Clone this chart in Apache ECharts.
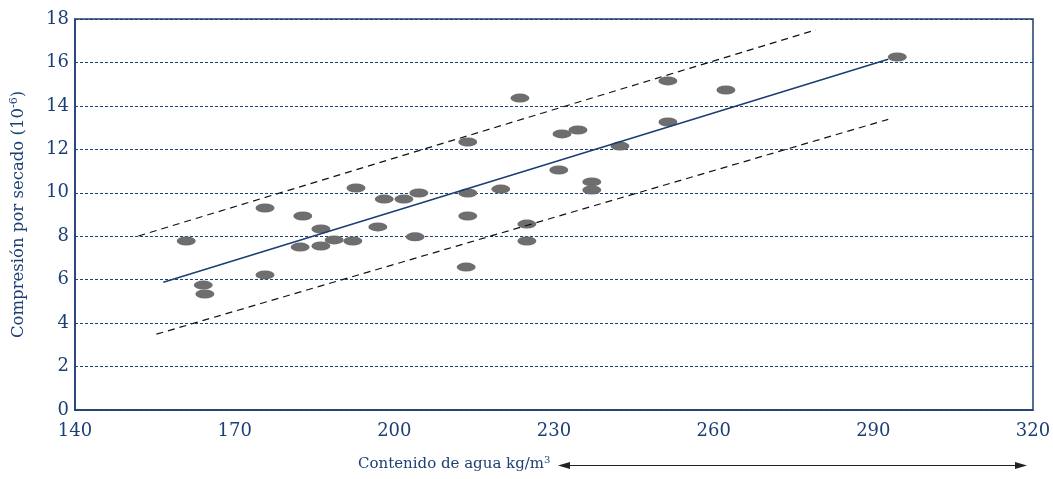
<!DOCTYPE html>
<html>
<head>
<meta charset="utf-8">
<script src="https://cdn.jsdelivr.net/npm/echarts@6/dist/echarts.min.js"></script>
<style>
  html, body { margin: 0; padding: 0; background: #fff; }
  #chart { width: 1053px; height: 479px; }
</style>
</head>
<body>
<div id="chart"></div>
<script>
// contenido de agua (kg/m3) vs compresion por secado (10^-6)
const waterX = [160.9, 164.1, 164.4, 175.7, 175.7, 182.8, 182.3, 186.2, 186.2, 188.7,
                192.2, 192.8, 198.1, 196.9, 201.8, 204.6, 203.9, 213.8, 213.8, 213.8,
                213.5, 220.0, 223.6, 224.9, 224.9, 230.9, 231.5, 234.5, 237.1, 237.1,
                242.4, 251.4, 251.4, 262.3, 294.5];
const shrinkY = [7.78, 5.75, 5.34, 9.30, 6.22, 8.93, 7.50, 8.33, 7.55, 7.83,
                 7.78, 10.22, 9.71, 8.43, 9.71, 9.99, 7.97, 12.34, 9.99, 8.93,
                 6.58, 10.17, 14.36, 8.56, 7.78, 11.05, 12.71, 12.89, 10.50, 10.13,
                 12.15, 15.15, 13.26, 14.73, 16.25];

// recta de regresion y limites
const fitX = [156.6, 292.8];
const fitY = [5.88, 16.15];
const upperX = [151.9, 279.2];
const upperY = [8.01, 17.50];
const lowerX = [155.3, 292.8];
const lowerY = [3.49, 13.38];

const xTicks = [140, 170, 200, 230, 260, 290, 320];
const yTicks = [0, 2, 4, 6, 8, 10, 12, 14, 16, 18];

const navy = '#1c3f74';
const font = 'DejaVu Serif';

const pairs = (xs, ys) => xs.map((x, i) => [x, ys[i]]);

const chart = echarts.init(document.getElementById('chart'));
chart.setOption({
  animation: false,
  grid: {
    left: 75, right: 20, top: 19, bottom: 69,
    outerBoundsMode: 'none', containLabel: false,
    show: true, borderColor: navy, borderWidth: 1.5
  },
  xAxis: {
    type: 'value',
    min: xTicks[0], max: xTicks[xTicks.length - 1], interval: 30,
    axisLine: { lineStyle: { color: navy, width: 1.5 } },
    axisTick: { show: false },
    splitLine: { show: false },
    axisLabel: { color: navy, fontFamily: font, fontSize: 18, margin: 12 }
  },
  yAxis: {
    type: 'value',
    min: yTicks[0], max: yTicks[yTicks.length - 1], interval: 2,
    axisLine: { show: true, lineStyle: { color: navy, width: 1.5 } },
    axisTick: { show: false },
    splitLine: { lineStyle: { color: navy, width: 1, type: [3, 2] } },
    axisLabel: { color: navy, fontFamily: font, fontSize: 18, margin: 6 },
    name: '{a|Compresión por secado (10}{s|-6}{a|)}',
    nameLocation: 'middle',
    nameGap: 46,
    nameTextStyle: {
      rich: {
        a: { color: navy, fontFamily: font, fontSize: 16.5 },
        s: { color: navy, fontFamily: font, fontSize: 11, padding: [0, 0, 9, 0] }
      }
    }
  },
  graphic: [
    {
      type: 'text', left: 358, top: 455,
      style: {
        text: '{a|Contenido de agua kg/m}{s|3}',
        rich: {
          a: { fill: navy, fontFamily: font, fontSize: 15 },
          s: { fill: navy, fontFamily: font, fontSize: 10, padding: [0, 0, 9, 0] }
        }
      }
    },
    { type: 'line', shape: { x1: 562, y1: 465.5, x2: 1022, y2: 465.5 }, style: { stroke: '#222', lineWidth: 1.2 } },
    { type: 'polygon', shape: { points: [[558, 465.5], [570, 462], [570, 469]] }, style: { fill: '#222' } },
    { type: 'polygon', shape: { points: [[1027, 465.5], [1015, 462], [1015, 469]] }, style: { fill: '#222' } }
  ],
  series: [
    {
      type: 'line', data: pairs(upperX, upperY), symbol: 'none',
      lineStyle: { color: '#111', width: 1.2, type: [7, 5] }
    },
    {
      type: 'line', data: pairs(lowerX, lowerY), symbol: 'none',
      lineStyle: { color: '#111', width: 1.2, type: [7, 5] }
    },
    {
      type: 'line', data: pairs(fitX, fitY), symbol: 'none',
      lineStyle: { color: '#1a3d73', width: 1.5 }
    },
    {
      type: 'scatter', data: pairs(waterX, shrinkY),
      symbol: 'circle', symbolSize: [19, 9],
      itemStyle: { color: '#6e6e6e', opacity: 1 }
    }
  ]
});
</script>
</body>
</html>
